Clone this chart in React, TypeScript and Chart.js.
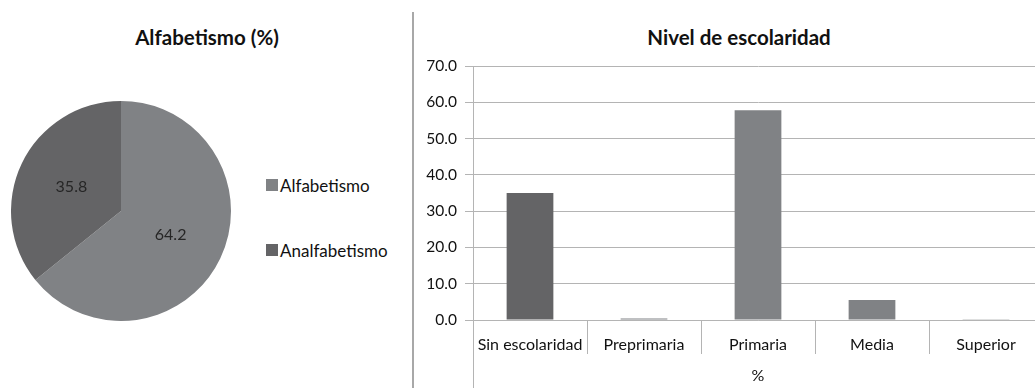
import React, { useEffect, useRef } from "react";
import { Chart, registerables } from "chart.js";

Chart.register(...registerables);

// Literacy split (%)
const literacyLabels = ["Alfabetismo", "Analfabetismo"];
const literacyValues = [64.2, 35.8];
const literacyColors = ["#808285", "#646466"];

// Schooling level (%)
const levelLabels = ["Sin escolaridad", "Preprimaria", "Primaria", "Media", "Superior"];
const levelValues = [35.0, 0.4, 57.8, 5.5, 0.1];
const levelColors = ["#646466", "#808285", "#808285", "#808285", "#808285"];

const yTicks = [0, 10, 20, 30, 40, 50, 60, 70];

const FONT = "Lato, 'Open Sans', sans-serif";
const TEXT = "#111111";
const GRID = "#b4b4b4";

// Writes each slice's value at the middle of its arc
const sliceValuePlugin = {
  id: "sliceValues",
  afterDatasetsDraw(chart: any) {
    const ctx = chart.ctx;
    const meta = chart.getDatasetMeta(0);
    const data = chart.data.datasets[0].data as number[];
    ctx.save();
    ctx.font = `16px ${FONT}`;
    ctx.fillStyle = "#262626";
    ctx.textAlign = "center";
    ctx.textBaseline = "middle";
    meta.data.forEach((arc: any, i: number) => {
      const p = arc.tooltipPosition();
      ctx.fillText(data[i].toFixed(1), p.x, p.y);
    });
    ctx.restore();
  },
};

// Carries the left category border down to the bottom of the canvas
const categoryFramePlugin = {
  id: "categoryFrame",
  afterDraw(chart: any) {
    const ctx = chart.ctx;
    const x = Math.round(chart.chartArea.left) + 0.5;
    ctx.save();
    ctx.strokeStyle = GRID;
    ctx.lineWidth = 1;
    ctx.beginPath();
    ctx.moveTo(x, chart.chartArea.bottom);
    ctx.lineTo(x, chart.height);
    ctx.stroke();
    ctx.restore();
  },
};

function LiteracyPie() {
  const ref = useRef<HTMLCanvasElement | null>(null);
  useEffect(() => {
    if (!ref.current) return;
    const chart = new Chart(ref.current, {
      type: "pie",
      data: {
        labels: literacyLabels,
        datasets: [
          {
            data: literacyValues,
            backgroundColor: literacyColors,
            borderWidth: 0,
          },
        ],
      },
      options: {
        responsive: false,
        animation: false,
        layout: { padding: 0 },
        plugins: {
          legend: { display: false },
          tooltip: { enabled: false },
        },
      },
      plugins: [sliceValuePlugin],
    });
    return () => chart.destroy();
  }, []);
  return (
    <canvas
      ref={ref}
      width={220}
      height={220}
      style={{ position: "absolute", left: 11, top: 101, width: 220, height: 220 }}
    />
  );
}

function SchoolingBars() {
  const ref = useRef<HTMLCanvasElement | null>(null);
  useEffect(() => {
    if (!ref.current) return;
    const chart = new Chart(ref.current, {
      type: "bar",
      data: {
        labels: levelLabels,
        datasets: [
          {
            data: levelValues,
            backgroundColor: levelColors,
            borderWidth: 0,
            categoryPercentage: 1,
            barPercentage: 0.41,
          },
        ],
      },
      options: {
        responsive: false,
        animation: false,
        layout: { autoPadding: false, padding: { top: 66, right: 0, bottom: 0, left: 0 } },
        plugins: {
          legend: { display: false },
          tooltip: { enabled: false },
        },
        scales: {
          x: {
            offset: true,
            grid: {
              offset: true,
              drawOnChartArea: false,
              tickLength: 34,
              color: GRID,
            },
            border: { color: GRID },
            ticks: {
              padding: -19,
              color: TEXT,
              font: { family: FONT, size: 16 },
              maxRotation: 0,
              autoSkip: false,
            },
            title: {
              display: true,
              text: "%",
              color: TEXT,
              font: { family: FONT, size: 16 },
              padding: { top: 0, bottom: 3 },
            },
            afterFit(scale: any) {
              scale.height = 68;
            },
          },
          y: {
            min: 0,
            max: 70,
            afterBuildTicks(scale: any) {
              scale.ticks = yTicks.map((v) => ({ value: v }));
            },
            grid: { color: GRID, tickLength: 8 },
            border: { color: GRID },
            ticks: {
              padding: 8,
              color: TEXT,
              font: { family: FONT, size: 15.5 },
              callback: (v: any) => Number(v).toFixed(1),
            },
            afterFit(scale: any) {
              scale.width = 53;
            },
          },
        },
      },
      plugins: [categoryFramePlugin],
    });
    return () => chart.destroy();
  }, []);
  return (
    <canvas
      ref={ref}
      width={623}
      height={388}
      style={{ position: "absolute", left: 420, top: 0, width: 623, height: 388 }}
    />
  );
}

export default function App() {
  const titleStyle: React.CSSProperties = {
    position: "absolute",
    top: 23,
    textAlign: "center",
    fontFamily: FONT,
    fontWeight: 700,
    fontSize: 20.5,
    lineHeight: "28px",
    color: TEXT,
    whiteSpace: "nowrap",
  };
  return (
    <div
      style={{
        position: "fixed",
        left: 0,
        top: 0,
        width: 1035,
        height: 388,
        overflow: "hidden",
        background: "#ffffff",
      }}
    >
      <div style={{ ...titleStyle, left: 107, width: 200 }}>Alfabetismo (%)</div>
      <LiteracyPie />
      {literacyLabels.map((label, i) => (
        <div
          key={label}
          style={{
            position: "absolute",
            left: 266,
            top: 174 + i * 65,
            height: 22,
            display: "flex",
            alignItems: "center",
            fontFamily: FONT,
            fontSize: 17,
            color: TEXT,
            whiteSpace: "nowrap",
          }}
        >
          <span
            style={{
              display: "inline-block",
              width: 12,
              height: 12,
              background: literacyColors[i],
              marginRight: 2,
            }}
          />
          {label}
        </div>
      ))}
      <div
        style={{
          position: "absolute",
          left: 412,
          top: 12,
          width: 2,
          height: 376,
          background: "#a8a8a8",
        }}
      />
      <div style={{ ...titleStyle, left: 589, width: 300 }}>Nivel de escolaridad</div>
      <SchoolingBars />
    </div>
  );
}
